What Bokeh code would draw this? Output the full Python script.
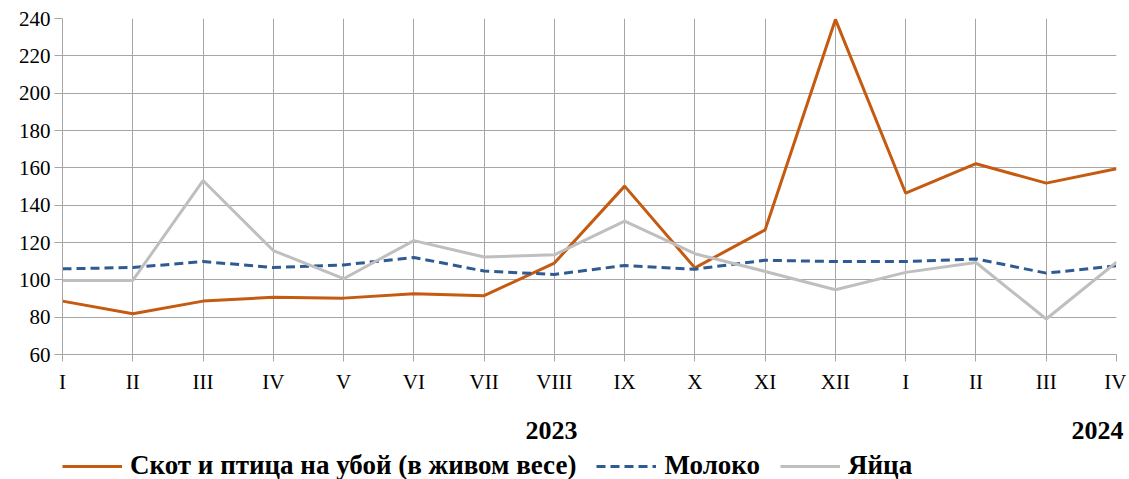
from bokeh.plotting import figure
from bokeh.layouts import column
from bokeh.models import Legend, LegendItem, FixedTicker, Range1d, LinearAxis
from bokeh.embed import file_html
from bokeh.resources import INLINE

months = ["I", "II", "III", "IV", "V", "VI", "VII", "VIII", "IX", "X", "XI", "XII",
          "I", "II", "III", "IV"]
years = ["2023", "2024"]
year_pos = [6.96, 14.73]
livestock = [88.6, 81.8, 88.6, 90.7, 90.2, 92.5, 91.5, 109.0, 150.2, 106.4, 126.8, 239.5,
             146.4, 162.2, 151.8, 159.5]
milk = [105.9, 106.6, 109.8, 106.6, 108.0, 112.0, 104.7, 102.9, 107.7, 105.7, 110.5, 109.8,
        109.8, 111.2, 103.6, 107.5]
eggs = [99.7, 99.7, 153.2, 115.7, 100.6, 121.0, 112.2, 113.4, 131.4, 114.0, 104.5, 94.7,
        104.0, 109.3, 79.0, 109.5]
series_names = ["Скот и птица на убой (в живом весе)", "Молоко", "Яйца"]
y_ticks = list(range(60, 241, 20))

FONT = "Liberation Serif"
COLORS = ["#C55A11", "#2F5B93", "#BFBFBF"]
DASHES = ["solid", "9 5", "solid"]
x = list(range(len(months)))
series = [livestock, milk, eggs]

p = figure(frame_width=1054, frame_height=336, output_backend="svg", toolbar_location=None,
           x_range=Range1d(0, len(months) - 1), y_range=Range1d(60, 240),
           min_border_left=62, min_border_top=18, min_border_right=10, min_border_bottom=96)
p.outline_line_color = None
p.background_fill_color = "white"

for vals, c, d in zip(series, COLORS, DASHES):
    p.line(x, vals, line_color=c, line_width=3, line_dash=d)

p.xaxis.ticker = FixedTicker(ticks=x)
p.xaxis.major_label_overrides = {i: m for i, m in enumerate(months)}
p.yaxis.ticker = FixedTicker(ticks=y_ticks)

for ax in (p.xaxis, p.yaxis):
    ax.axis_line_color = "#A6A6A6"
    ax.major_tick_line_color = "#A6A6A6"
    ax.minor_tick_line_color = None
    ax.major_tick_in = 0
    ax.major_tick_out = 7
    ax.major_label_text_font = FONT
    ax.major_label_text_font_size = "21px"
    ax.major_label_text_color = "#000000"
p.xaxis.major_label_standoff = 8
p.yaxis.major_tick_out = 8
p.yaxis.major_label_standoff = 4

p.xgrid.ticker = FixedTicker(ticks=x)
p.ygrid.ticker = FixedTicker(ticks=y_ticks)
p.grid.grid_line_color = "#A6A6A6"
p.grid.grid_line_width = 1

year_axis = LinearAxis(ticker=FixedTicker(ticks=year_pos),
                       major_label_overrides={pos: yr for pos, yr in zip(year_pos, years)},
                       axis_line_color=None, major_tick_line_color=None,
                       minor_tick_line_color=None, major_tick_in=0, major_tick_out=0,
                       major_label_standoff=25, major_label_text_font=FONT,
                       major_label_text_font_style="bold", major_label_text_font_size="26px",
                       major_label_text_color="#000000")
p.add_layout(year_axis, "below")

# legend strip (series drawn outside its visible range; only the legend shows)
lg = figure(width=1126, height=31, output_backend="svg", toolbar_location=None,
            x_range=Range1d(-20, -19), y_range=Range1d(0, 1),
            min_border_left=0, min_border_right=0, min_border_top=0, min_border_bottom=0)
lg.axis.visible = False
lg.grid.visible = False
lg.outline_line_color = None
items = []
for name, vals, c, d in zip(series_names, series, COLORS, DASHES):
    r = lg.line(x, vals, line_color=c, line_width=3, line_dash=d)
    items.append(LegendItem(label=name, renderers=[r]))

legend = Legend(items=items, orientation="horizontal", location=(0, 0),
                glyph_width=60, glyph_height=20, label_height=20, padding=0, spacing=20,
                label_standoff=8, border_line_color=None, background_fill_alpha=0,
                label_text_font=FONT, label_text_font_style="bold",
                label_text_font_size="27px", label_text_color="#000000", margin=0)
lg.add_layout(legend, "center")

open("out.html", "w").write(file_html(column(p, lg, spacing=0), INLINE))
